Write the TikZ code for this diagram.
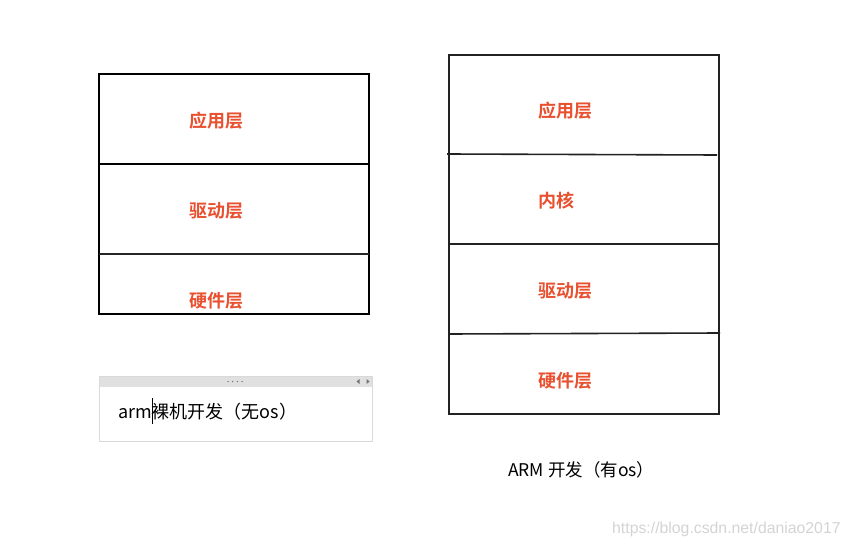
\documentclass[tikz,border=0pt]{standalone}
\usepackage{fontspec}
\newfontfamily\cjk{Noto Sans CJK SC}
\newfontfamily\cjkb{Noto Sans CJK SC Bold}
\newfontfamily\wm{Liberation Sans}
\definecolor{lred}{HTML}{E8502F}
\definecolor{boxline}{HTML}{222222}
\definecolor{hdr}{HTML}{E0E0E0}
\definecolor{frame}{HTML}{D9D9D9}
\definecolor{wmgray}{HTML}{D4D4D4}
\begin{document}
\begin{tikzpicture}[x=1pt,y=-1pt,
  layerbox/.style={draw=boxline, line width=1.6pt},
  lbl/.style={text=lred, font=\cjkb\fontsize{18}{18}\selectfont, inner sep=0pt},
  captext/.style={text=black, font=\cjk\fontsize{18}{18}\selectfont, inner sep=0pt, anchor=west},
  hdrmark/.style={fill=black!55}]
\useasboundingbox (0,0) rectangle (850,548);
\fill[white] (0,0) rectangle (850,548);
% left stack
\draw[layerbox, draw=black] (99,74) rectangle (369,314);
\draw[layerbox, draw=black] (99,164) -- (369,164);
\draw[layerbox, draw=black!85] (99,254) -- (369,254);
\node[lbl] (l1) at (216,121) {应用层};
\node[lbl] (l2) at (216,211) {驱动层};
\node[lbl] (l3) at (216,301) {硬件层};
% text box
\fill[hdr] (99,376) rectangle (372,387);
\draw[frame, line width=0.8pt] (99,376) rectangle (372,441);
\foreach \i in {0,1,2,3} \fill[hdrmark] (228+\i*4.7,381.5) circle (0.75pt);
\fill[hdrmark] (356.5,381.5) -- (359.5,379) -- (359.5,384) -- cycle;
\fill[hdrmark] (369.5,381.5) -- (366.5,379) -- (366.5,384) -- cycle;
\node[captext] (c1) at (118,411) {arm\kern0.5pt\rule[-6pt]{0.9pt}{26pt}\kern-1.4pt 裸机开发（无os）};
% right stack
\draw[layerbox] (449,55) rectangle (719,414);
\draw[layerbox] (447,154) -- (717,155);
\draw[layerbox] (449,244) -- (719,244);
\draw[layerbox] (448,334) -- (720,333);
\node[lbl] (r1) at (565,111) {应用层};
\node[lbl, anchor=west] (r2) at (538,201) {内核};
\node[lbl] (r3) at (565,291) {驱动层};
\node[lbl] (r4) at (565,381) {硬件层};
\node[captext, font=\cjk\fontsize{17.5}{17.5}\selectfont] (c2) at (508,470) {ARM 开发（有os）};
% watermark
\node[inner sep=0pt, anchor=west, text=wmgray, font=\wm\fontsize{15.8}{15.8}\selectfont] (wmk) at (612,529) {https://blog.csdn.net/daniao2017};
\end{tikzpicture}
\end{document}
